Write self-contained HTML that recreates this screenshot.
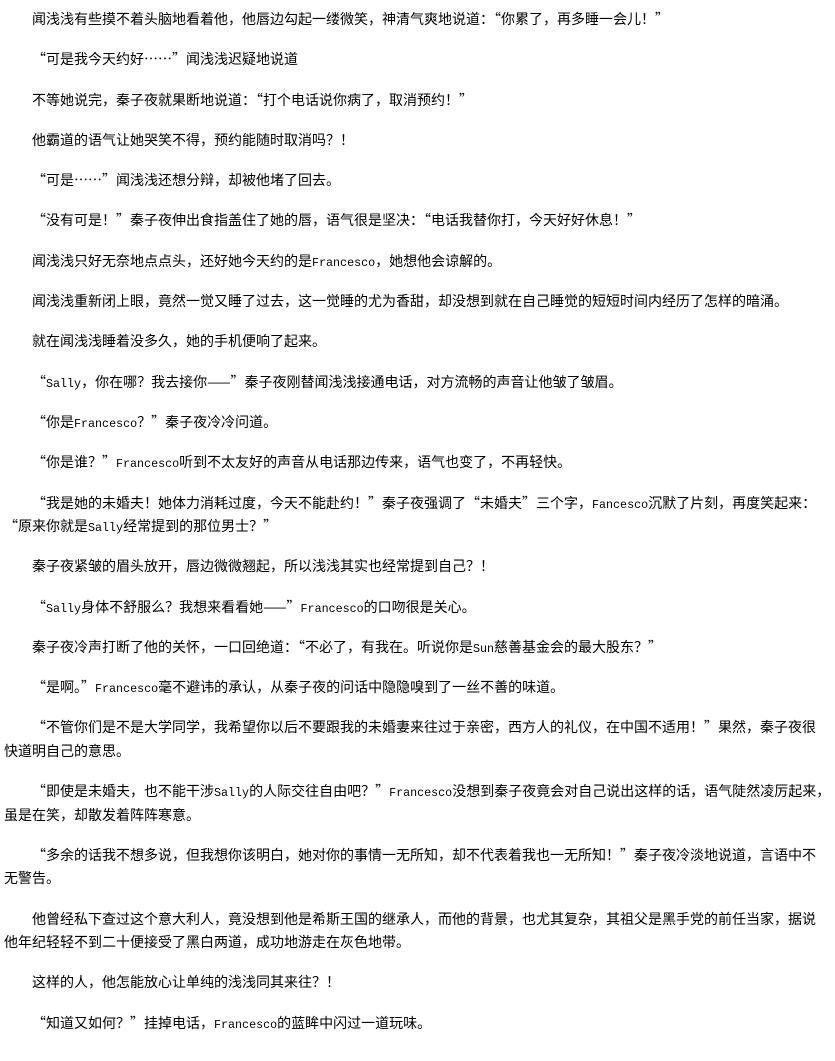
<!DOCTYPE html>
<html><head><meta charset="utf-8">
<style>
html,body{margin:0;padding:0;background:#fff;}
body{width:835px;height:1061px;overflow:hidden;}
.c{position:absolute;left:4px;top:8px;width:812px;font-family:"Noto Sans CJK SC","Liberation Sans",sans-serif;font-size:14px;color:#000;line-height:23.4px;}
p{margin:0 0 16.9px 0;text-indent:2em;}
.l{font-family:"Liberation Mono",monospace;font-size:11.7px;line-height:0;}
.nw{white-space:nowrap;}
</style></head><body><div class="c">
<p>闻浅浅有些摸不着头脑地看着他，他唇边勾起一缕微笑，神清气爽地说道：“你累了，再多睡一会儿！”</p>
<p>“可是我今天约好……”闻浅浅迟疑地说道</p>
<p>不等她说完，秦子夜就果断地说道：“打个电话说你病了，取消预约！”</p>
<p>他霸道的语气让她哭笑不得，预约能随时取消吗？！</p>
<p>“可是……”闻浅浅还想分辩，却被他堵了回去。</p>
<p>“没有可是！”秦子夜伸出食指盖住了她的唇，语气很是坚决：“电话我替你打，今天好好休息！”</p>
<p>闻浅浅只好无奈地点点头，还好她今天约的是<span class="l">Francesco</span>，她想他会谅解的。</p>
<p>闻浅浅重新闭上眼，竟然一觉又睡了过去，这一觉睡的尤为香甜，却没想到就在自己睡觉的短短时间内经历了怎样的暗涌。</p>
<p>就在闻浅浅睡着没多久，她的手机便响了起来。</p>
<p>“<span class="l">Sally</span>，你在哪？我去接你——”秦子夜刚替闻浅浅接通电话，对方流畅的声音让他皱了皱眉。</p>
<p>“你是<span class="l">Francesco</span>？”秦子夜冷冷问道。</p>
<p>“你是谁？”<span class="l">Francesco</span>听到不太友好的声音从电话那边传来，语气也变了，不再轻快。</p>
<p><span class="nw">“我是她的未婚夫！她体力消耗过度，今天不能赴约！”秦子夜强调了“未婚夫”三个字，<span class="l">Fancesco</span>沉默了片刻，再度笑起来：</span><br>“原来你就是<span class="l">Sally</span>经常提到的那位男士？”</p>
<p>秦子夜紧皱的眉头放开，唇边微微翘起，所以浅浅其实也经常提到自己？！</p>
<p>“<span class="l">Sally</span>身体不舒服么？我想来看看她——”<span class="l">Francesco</span>的口吻很是关心。</p>
<p>秦子夜冷声打断了他的关怀，一口回绝道：“不必了，有我在。听说你是<span class="l">Sun</span>慈善基金会的最大股东？”</p>
<p>“是啊。”<span class="l">Francesco</span>毫不避讳的承认，从秦子夜的问话中隐隐嗅到了一丝不善的味道。</p>
<p>“不管你们是不是大学同学，我希望你以后不要跟我的未婚妻来往过于亲密，西方人的礼仪，在中国不适用！”果然，秦子夜很快道明自己的意思。</p>
<p><span class="nw">“即使是未婚夫，也不能干涉<span class="l">Sally</span>的人际交往自由吧？”<span class="l">Francesco</span>没想到秦子夜竟会对自己说出这样的话，语气陡然凌厉起来，</span><br>虽是在笑，却散发着阵阵寒意。</p>
<p>“多余的话我不想多说，但我想你该明白，她对你的事情一无所知，却不代表着我也一无所知！”秦子夜冷淡地说道，言语中不无警告。</p>
<p>他曾经私下查过这个意大利人，竟没想到他是希斯王国的继承人，而他的背景，也尤其复杂，其祖父是黑手党的前任当家，据说他年纪轻轻不到二十便接受了黑白两道，成功地游走在灰色地带。</p>
<p>这样的人，他怎能放心让单纯的浅浅同其来往？！</p>
<p>“知道又如何？”挂掉电话，<span class="l">Francesco</span>的蓝眸中闪过一道玩味。</p>
</div></body></html>
